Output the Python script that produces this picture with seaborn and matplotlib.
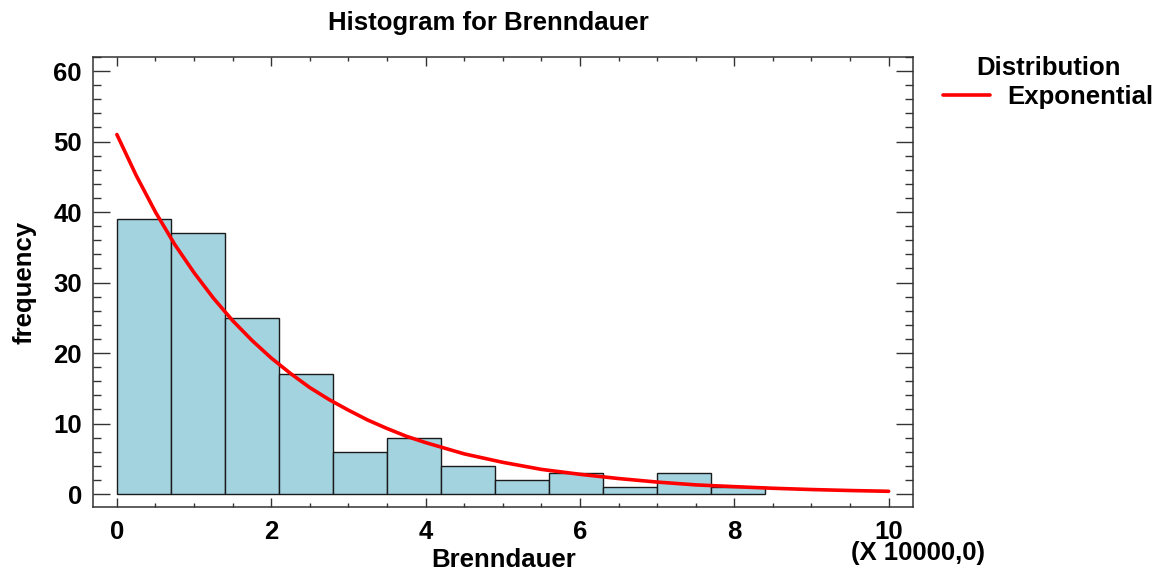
import numpy as np
import pandas as pd
import matplotlib
matplotlib.use("Agg")
import matplotlib.pyplot as plt
from matplotlib.ticker import MultipleLocator
from matplotlib.lines import Line2D
import seaborn as sns

# histogram bins (x in units of 10000)
bin_edges = [0.0, 0.7, 1.4, 2.1, 2.8, 3.5, 4.2, 4.9, 5.6, 6.3, 7.0, 7.7, 8.4]
bin_counts = [39, 37, 25, 17, 6, 8, 4, 2, 3, 1, 3, 1]

# fitted exponential curve
curve_x = [0.0, 0.25, 0.5, 0.75, 1.0, 1.25, 1.5, 1.75, 2.0, 2.25, 2.5, 2.75,
           3.0, 3.25, 3.5, 3.75, 4.0, 4.5, 5.0, 5.5, 6.0, 6.5, 7.0, 7.5,
           8.0, 8.5, 9.0, 9.5, 10.0]
curve_y = [51.0, 45.2, 40.0, 35.4, 31.4, 27.8, 24.6, 21.8, 19.3, 17.1, 15.1, 13.4,
           11.9, 10.5, 9.3, 8.2, 7.3, 5.7, 4.5, 3.5, 2.8, 2.2, 1.7, 1.3,
           1.05, 0.82, 0.64, 0.50, 0.39]

sns.set_style("ticks")
plt.rcParams["font.family"] = ["Liberation Sans", "DejaVu Sans"]
plt.rcParams["font.weight"] = "bold"
plt.rcParams["text.color"] = "black"
plt.rcParams["axes.labelcolor"] = "black"
plt.rcParams["xtick.labelcolor"] = "black"
plt.rcParams["ytick.labelcolor"] = "black"

FS = 18.5

df = pd.DataFrame({
    "center": [(a + b) / 2 for a, b in zip(bin_edges[:-1], bin_edges[1:])],
    "count": bin_counts,
})
curve = pd.DataFrame({"x": curve_x, "y": curve_y})

fig = plt.figure(figsize=(11.62, 5.74), dpi=100)
ax = fig.add_axes([0.080, 0.1167, 0.706, 0.784])

sns.histplot(data=df, x="center", weights="count", bins=bin_edges, ax=ax,
             color="#a4d3e0", alpha=1, edgecolor="#1a1a1a", linewidth=1.0)
sns.lineplot(data=curve, x="x", y="y", ax=ax, color="#ff0000", linewidth=2.6)

ax.set_xlim(-0.31, 10.32)
ax.set_ylim(-1.84, 62)
ax.xaxis.set_major_locator(MultipleLocator(2))
ax.xaxis.set_minor_locator(MultipleLocator(0.5))
ax.yaxis.set_major_locator(MultipleLocator(10))
ax.yaxis.set_minor_locator(MultipleLocator(2))

ax.tick_params(axis="both", which="both", direction="in", top=True, right=True,
               color="#333333", labelsize=FS, width=1.0)
ax.tick_params(axis="x", which="major", length=6.5, pad=9)
ax.tick_params(axis="x", which="minor", length=3.2)
ax.tick_params(axis="y", which="major", length=12.2, pad=8)
ax.tick_params(axis="y", which="minor", length=5.8)
for lab in ax.get_xticklabels() + ax.get_yticklabels():
    lab.set_fontweight("bold")
for sp in ax.spines.values():
    sp.set_color("#333333")
    sp.set_linewidth(1.1)

ax.set_xlabel("Brenndauer", fontsize=FS, fontweight="bold", labelpad=3)
ax.set_ylabel("frequency", fontsize=FS, fontweight="bold", labelpad=12)

fig.text(488 / 1162, 1 - 23 / 574, "Histogram for Brenndauer", ha="center", va="center",
         fontsize=FS, fontweight="bold")
fig.text(918 / 1162, 1 - 553 / 574, "(X 10000,0)", ha="center", va="center",
         fontsize=FS, fontweight="bold")

handles = [Line2D([0], [0], color="#ff0000", linewidth=2.6)]
leg = fig.legend(handles, ["Exponential"], title="Distribution",
                 loc="upper left", bbox_to_anchor=(943 / 1162, 1 - 56 / 574),
                 frameon=False, fontsize=FS, title_fontsize=FS,
                 handlelength=1.83, handletextpad=0.66, borderaxespad=0,
                 borderpad=0, labelspacing=0.2)
leg.get_title().set_fontweight("bold")

fig.savefig("out.png", dpi=100)
